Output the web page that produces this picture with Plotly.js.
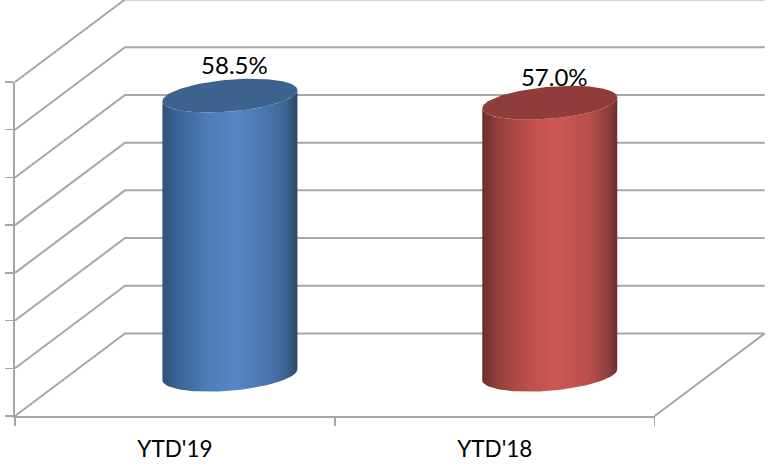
<!DOCTYPE html>
<html>
<head>
<meta charset="utf-8">
<script src="https://cdn.plot.ly/plotly-3.0.1.min.js"></script>
<style>html,body{margin:0;padding:0;background:#fff}</style>
</head>
<body>
<div id="chart" style="width:769px;height:471px"></div>
<script>
// Year-to-date share, drawn as 3D-style cylinders on an oblique floor and back wall
const categories = ["YTD'19", "YTD'18"];
const shareValues = [58.5, 57.0];
const valueLabels = ["58.5%", "57.0%"];
const gridValues = [0, 10, 20, 30, 40, 50, 60, 70];
const capColors = ["#3d628e", "#8f3c3a"];
const bodyScales = [
  [[0, "#2f5078"], [0.12, "#3b6595"], [0.35, "#4f7eb9"], [0.55, "#5586c6"], [0.78, "#4a76ab"], [0.92, "#3c6290"], [1, "#2c4868"]],
  [[0, "#6b2e2d"], [0.12, "#943f3d"], [0.35, "#c04f4c"], [0.55, "#cc5754"], [0.78, "#b94f4b"], [0.92, "#934240"], [1, "#6c2f2e"]]
];

const gridColor = "#a6a6a6";
const pageW = 769, pageH = 471;
const axisLeft = 15, axisRight = 654.7, axisBottom = 416, axisTop = 82;
const pxPerCategory = (axisRight - axisLeft) / 2, pxPerValue = (axisBottom - axisTop) / 70;

// Oblique projection, in axis units: wall depth, cylinder half width and tilt
const depthX = 110 / pxPerCategory, depthY = 82.5 / pxPerValue;
const radiusX = 67.5 / pxPerCategory, radiusY = 16 / pxPerValue, tilt = 5.5 / pxPerValue;
// Height of each value label above its cylinder's centre line
const labelLifts = [28 / pxPerValue, 22.5 / pxPerValue];

// The perspective drawing sits on a full-page pair of axes sharing the chart's scale
const overlay = { xaxis: "x2", yaxis: "y2", hoverinfo: "skip", showlegend: false };

function gridLine(xs, ys) {
  return Object.assign({ type: "scatter", mode: "lines", x: xs, y: ys,
    line: { color: gridColor, width: 2 } }, overlay);
}

// Point on a cylinder's elliptical rim, t in radians
function rim(cx, cy, t) {
  return [cx + radiusX * Math.cos(t), cy + radiusY * Math.sin(t) + tilt * Math.cos(t)];
}

const traces = [];

// Invisible bars carry the category axis
traces.push({ type: "bar", x: categories, y: shareValues, opacity: 0, hoverinfo: "skip", showlegend: false });

// Left wall diagonals and back wall lines
gridValues.forEach(v => {
  traces.push(gridLine([-0.5, -0.5 + depthX, 1.5 + depthX], [v, v + depthY, v + depthY]));
});
// Right edge of the floor
traces.push(gridLine([1.5, 1.5 + depthX], [0, depthY]));

// Cylinders
categories.forEach((c, i) => {
  const cx = i + depthX / 2, base = depthY / 2, top = base + shareValues[i];
  const bx = [], by = [];
  const steps = 60;
  for (let k = 0; k <= steps; k++) {            // lower arc of the base, right to left
    const p = rim(cx, base, -Math.PI * k / steps);
    bx.push(p[0]); by.push(p[1]);
  }
  for (let k = steps; k >= 0; k--) {            // lower arc of the top, left to right
    const p = rim(cx, top, -Math.PI * k / steps);
    bx.push(p[0]); by.push(p[1]);
  }
  bx.push(bx[0]); by.push(by[0]);
  traces.push(Object.assign({ type: "scatter", mode: "lines", x: bx, y: by, fill: "toself",
    line: { width: 0 },
    fillgradient: { type: "horizontal", colorscale: bodyScales[i] } }, overlay));

  const tx = [], ty = [];
  for (let k = 0; k <= 120; k++) {
    const p = rim(cx, top, 2 * Math.PI * k / 120);
    tx.push(p[0]); ty.push(p[1]);
  }
  traces.push(Object.assign({ type: "scatter", mode: "lines", x: tx, y: ty, fill: "toself",
    line: { width: 0 }, fillcolor: capColors[i] }, overlay));
});

// Value labels above each cylinder
traces.push(Object.assign({ type: "scatter", mode: "text",
  x: categories.map((c, i) => i + depthX / 2 + 4.5 / pxPerCategory),
  y: shareValues.map((v, i) => v + depthY / 2 + labelLifts[i]),
  text: valueLabels, textposition: "middle center",
  textfont: { family: "Lato, 'Open Sans', sans-serif", size: 24, color: "#000000" } }, overlay));

const layout = {
  width: pageW, height: pageH,
  margin: { l: 0, r: 0, t: 0, b: 0, pad: 0 },
  paper_bgcolor: "#ffffff", plot_bgcolor: "rgba(0,0,0,0)",
  showlegend: false,
  bargap: 0.5,
  xaxis: {
    domain: [axisLeft / pageW, axisRight / pageW], anchor: "y",
    type: "category", categoryorder: "array", categoryarray: categories,
    range: [-0.5, 1.5], tickson: "boundaries", ticks: "outside", ticklen: 8, tickwidth: 1.5,
    ticklabelstandoff: 12,
    tickcolor: gridColor, showline: true, linecolor: gridColor, linewidth: 2, showgrid: false,
    zeroline: false, fixedrange: true,
    tickfont: { family: "Lato, 'Open Sans', sans-serif", size: 22.5, color: "#000000" }
  },
  yaxis: {
    domain: [(pageH - axisBottom) / pageH, (pageH - axisTop) / pageH], anchor: "x",
    range: [0, 70], tickmode: "array", tickvals: gridValues, showticklabels: false,
    ticks: "outside", ticklen: 8, tickwidth: 1.5, tickcolor: gridColor,
    showline: true, linecolor: gridColor, linewidth: 2, showgrid: false, zeroline: false, fixedrange: true
  },
  xaxis2: {
    domain: [0, 1], anchor: "y2", visible: false, fixedrange: true,
    range: [-0.5 - axisLeft / pxPerCategory, -0.5 + (pageW - axisLeft) / pxPerCategory]
  },
  yaxis2: {
    domain: [0, 1], anchor: "x2", visible: false, fixedrange: true,
    range: [-(pageH - axisBottom) / pxPerValue, axisBottom / pxPerValue]
  }
};

Plotly.newPlot("chart", traces, layout, { displayModeBar: false, staticPlot: true });
</script>
</body>
</html>
